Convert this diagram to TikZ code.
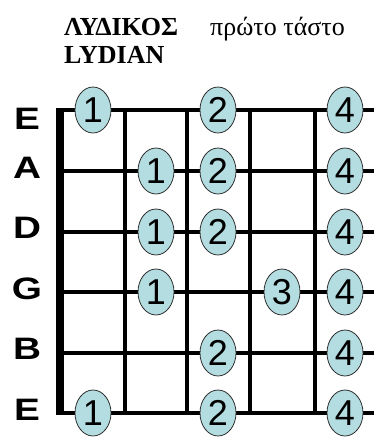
\documentclass[tikz,border=0pt]{standalone}
\usepackage{fontspec}
\setmainfont{Liberation Serif}
\newfontfamily\fretsans{Liberation Sans}
\newfontfamily\namesans[FakeStretch=1.25]{Liberation Sans}
\usetikzlibrary{shapes.geometric}
\definecolor{fingerblue}{RGB}{180,221,225}
\definecolor{rimgray}{RGB}{45,45,45}

\begin{document}
\begin{tikzpicture}[x=1pt, y=-1pt,
  finger/.style={ellipse, draw=rimgray, line width=0.8pt, fill=fingerblue,
    minimum width=36pt, minimum height=46pt, inner sep=0pt,
    font=\fretsans\fontsize{36}{36}\selectfont},
  stringname/.style={inner sep=0pt, font=\namesans\bfseries\fontsize{31}{31}\selectfont},
  titletext/.style={anchor=base west, inner sep=0pt, font=\fontsize{26}{26}\selectfont},
  wire/.style={line width=4pt},
  fretbar/.style={line width=4.5pt}]
\useasboundingbox (0,0) rectangle (374,437);

% title
\node[titletext, font=\bfseries\fontsize{26}{26}\selectfont] (modegr) at (64,35) {ΛΥΔΙΚΟΣ};
\node[titletext] (posgr) at (210,35) {πρώτο τάστο};
\node[titletext, font=\bfseries\fontsize{26}{26}\selectfont] (modeen) at (64,63) {LYDIAN};

% strings
\foreach \y [count=\i] in {110,171,232,292,353,413} {
  \coordinate (s\i w) at (60,\y);
  \coordinate (s\i e) at (374,\y);
  \draw[wire] (s\i w) -- (s\i e);
}
% frets and nut
\foreach \x [count=\j] in {125,187,250,315} {
  \draw[fretbar] (\x,110) -- (\x,413);
}
\draw[line width=8pt] (60,108) -- (60,415);

% string names
\foreach \n/\y [count=\i] in {E/119,A/168,D/228,G/289,B/349,E/410} {
  \node[stringname] (name\i) at (27,\y) {\n};
}

% finger positions
\foreach \x [count=\k] in {93,156,218,282,345} {
  \coordinate (space\k) at (\x,0);
}
\foreach \sp/\st/\d in {1/1/1, 3/1/2, 5/1/4,
                        2/2/1, 3/2/2, 5/2/4,
                        2/3/1, 3/3/2, 5/3/4,
                        2/4/1, 4/4/3, 5/4/4,
                        3/5/2, 5/5/4,
                        1/6/1, 3/6/2, 5/6/4} {
  \node[finger] (f\st-\sp) at (space\sp |- s\st w) {\d};
}
\end{tikzpicture}
\end{document}
